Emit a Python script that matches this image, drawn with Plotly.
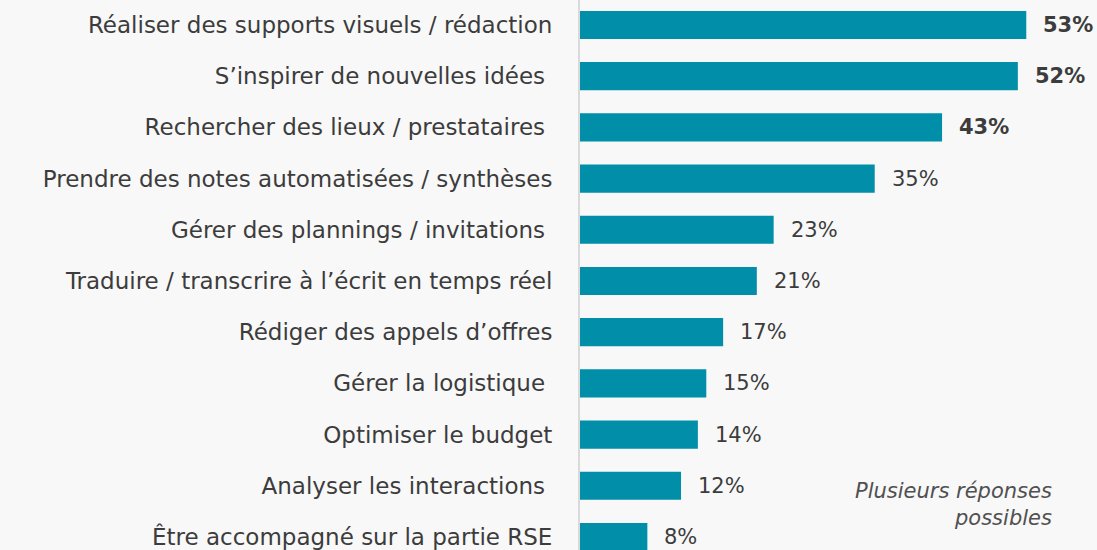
import plotly.graph_objects as go

categories = [
    "Réaliser des supports visuels / rédaction",
    "S’inspirer de nouvelles idées\u00a0",
    "Rechercher des lieux / prestataires\u00a0",
    "Prendre des notes automatisées / synthèses",
    "Gérer des plannings / invitations\u00a0",
    "Traduire / transcrire à l’écrit en temps réel",
    "Rédiger des appels d’offres",
    "Gérer la logistique\u00a0",
    "Optimiser le budget",
    "Analyser les interactions\u00a0",
    "Être accompagné sur la partie RSE",
]
values = [53, 52, 43, 35, 23, 21, 17, 15, 14, 12, 8]
bold_flags = [True, True, True, False, False, False, False, False, False, False, False]
note_text = "<i>Plusieurs réponses<br>possibles</i>"

BAR_COLOR = "#008ea8"
TEXT_COLOR = "#3c3c3c"
FONT = "DejaVu Sans, sans-serif"

idx = list(range(len(categories)))

fig = go.Figure()
fig.add_trace(go.Bar(
    x=values, y=idx, orientation="h",
    marker=dict(color=BAR_COLOR, line=dict(width=0)),
    width=0.55,
    hoverinfo="skip",
))

for i, (v, b) in enumerate(zip(values, bold_flags)):
    label = f"<b>{v}%</b>" if b else f"{v}%"
    fig.add_annotation(
        x=v, y=i, xref="x", yref="y", text=label, showarrow=False,
        xanchor="left", yanchor="middle", xshift=15,
        font=dict(family=FONT, size=21, color=TEXT_COLOR),
    )

fig.add_annotation(
    x=(1054 - 580) / 517, y=1 - 504 / 550, xref="paper", yref="paper",
    text=note_text, showarrow=False,
    xanchor="right", yanchor="middle", align="right",
    font=dict(family=FONT, size=21, color="#505050"),
)

fig.update_layout(
    width=1097, height=550,
    margin=dict(l=580, r=0, t=0, b=0),
    paper_bgcolor="#f8f8f8", plot_bgcolor="#f8f8f8",
    showlegend=False,
    font=dict(family=FONT, size=20, color=TEXT_COLOR),
    xaxis=dict(range=[0, 61.4], showgrid=False, zeroline=False,
               showticklabels=False, showline=False, fixedrange=True),
    yaxis=dict(range=[10.254, -0.488], tickmode="array", tickvals=idx,
               ticktext=categories, showgrid=False, zeroline=False,
               showline=True, linecolor="#d9d9d9", linewidth=2,
               ticks="", ticklabelstandoff=21, ticklabeloverflow="allow",
               tickfont=dict(family=FONT, size=23, color=TEXT_COLOR),
               fixedrange=True),
)

fig.write_html(
    "out.html",
    config={"displayModeBar": False},
    post_script="document.body.style.margin='0';document.body.style.background='#f8f8f8';",
)
